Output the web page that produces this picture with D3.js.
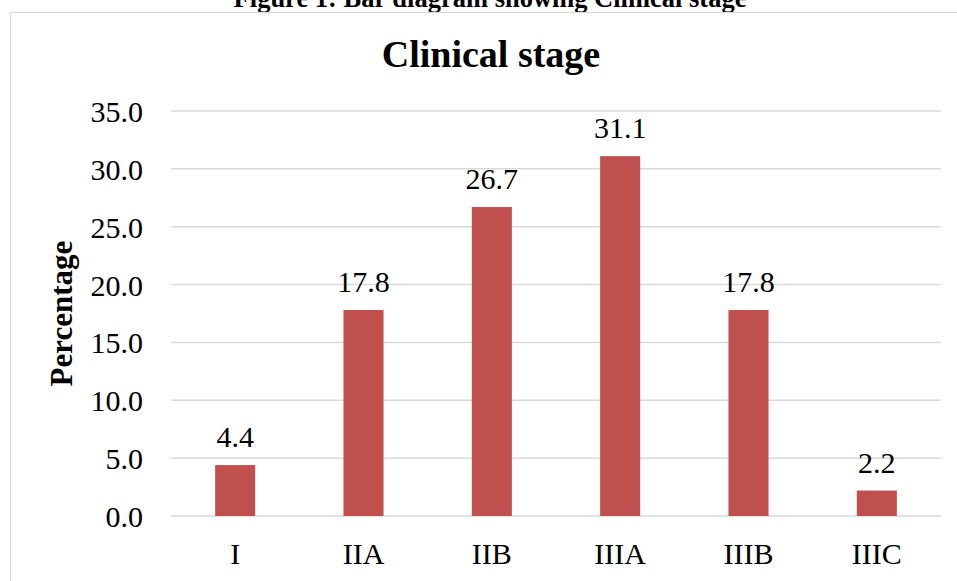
<!DOCTYPE html>
<html>
<head>
<meta charset="utf-8">
<script src="https://cdn.jsdelivr.net/npm/d3@7/dist/d3.min.js"></script>
<style>
  html, body { margin: 0; padding: 0; background: #fff; }
  svg { display: block; }
  text { font-family: "Liberation Serif", "Times New Roman", serif; fill: #000; }
</style>
</head>
<body>
<svg id="chart" width="957" height="581"></svg>
<script>
const categories = ["I", "IIA", "IIB", "IIIA", "IIIB", "IIIC"];
const values = [4.4, 17.8, 26.7, 31.1, 17.8, 2.2];
const yTicks = [0, 5, 10, 15, 20, 25, 30, 35];
const captionText = "Figure 1: Bar diagram showing Clinical stage";
const titleText = "Clinical stage";
const yAxisTitle = "Percentage";

const svg = d3.select("#chart");
const W = 957, H = 581;
const plot = { left: 171, right: 941, top: 111, bottom: 516 };

// caption (clipped at top)
svg.append("text")
  .attr("x", 490).attr("y", 7)
  .attr("text-anchor", "middle")
  .style("font-weight", "bold")
  .style("font-size", "26.5px")
  .text(captionText);

// chart area border
svg.append("rect")
  .attr("x", 10.5).attr("y", 12.5)
  .attr("width", W + 20).attr("height", H)
  .attr("fill", "none")
  .attr("stroke", "#d9d9d9")
  .attr("stroke-width", 1.2);

// title
svg.append("text")
  .attr("x", 491).attr("y", 67)
  .attr("text-anchor", "middle")
  .style("font-weight", "bold")
  .style("font-size", "38px")
  .text(titleText);

const x = d3.scaleBand()
  .domain(categories)
  .range([plot.left, plot.right])
  .paddingInner(0.688)
  .paddingOuter(0.344);

const y = d3.scaleLinear()
  .domain([0, 35])
  .range([plot.bottom, plot.top]);

// gridlines
svg.append("g")
  .selectAll("line")
  .data(yTicks)
  .join("line")
  .attr("x1", plot.left).attr("x2", plot.right)
  .attr("y1", d => y(d)).attr("y2", d => y(d))
  .attr("stroke", "#d9d9d9")
  .attr("stroke-width", 1.5);

// y axis tick labels via d3 axis
const yAxis = d3.axisLeft(y)
  .tickValues(yTicks)
  .tickFormat(d3.format(".1f"))
  .tickSize(0)
  .tickPadding(0);

const gy = svg.append("g")
  .attr("transform", `translate(143,0)`)
  .call(yAxis);
gy.select(".domain").remove();
gy.selectAll("text")
  .attr("x", 0)
  .attr("dy", "0.35em")
  .style("font-family", "'Liberation Serif', 'Times New Roman', serif")
  .style("font-size", "30px")
  .attr("fill", "#000");

// x axis labels via d3 axis
const xAxis = d3.axisBottom(x).tickSize(0).tickPadding(0);
const gx = svg.append("g")
  .attr("transform", `translate(0,${plot.bottom})`)
  .call(xAxis);
gx.select(".domain").remove();
gx.selectAll("text")
  .attr("y", 48)
  .attr("dy", 0)
  .style("font-family", "'Liberation Serif', 'Times New Roman', serif")
  .style("font-size", "30px")
  .attr("fill", "#000");

// bars
svg.append("g")
  .selectAll("rect")
  .data(values)
  .join("rect")
  .attr("x", (d, i) => x(categories[i]))
  .attr("width", x.bandwidth())
  .attr("y", d => y(d))
  .attr("height", d => y(0) - y(d))
  .attr("fill", "#c0504d");

// data labels
svg.append("g")
  .selectAll("text")
  .data(values)
  .join("text")
  .attr("x", (d, i) => x(categories[i]) + x.bandwidth() / 2)
  .attr("y", d => y(d) - 18)
  .attr("text-anchor", "middle")
  .style("font-size", "30px")
  .text(d => d3.format(".1f")(d));

// y axis title
svg.append("text")
  .attr("transform", `translate(72,${(plot.top + plot.bottom) / 2}) rotate(-90)`)
  .attr("text-anchor", "middle")
  .style("font-weight", "bold")
  .style("font-size", "31px")
  .text(yAxisTitle);
</script>
</body>
</html>
